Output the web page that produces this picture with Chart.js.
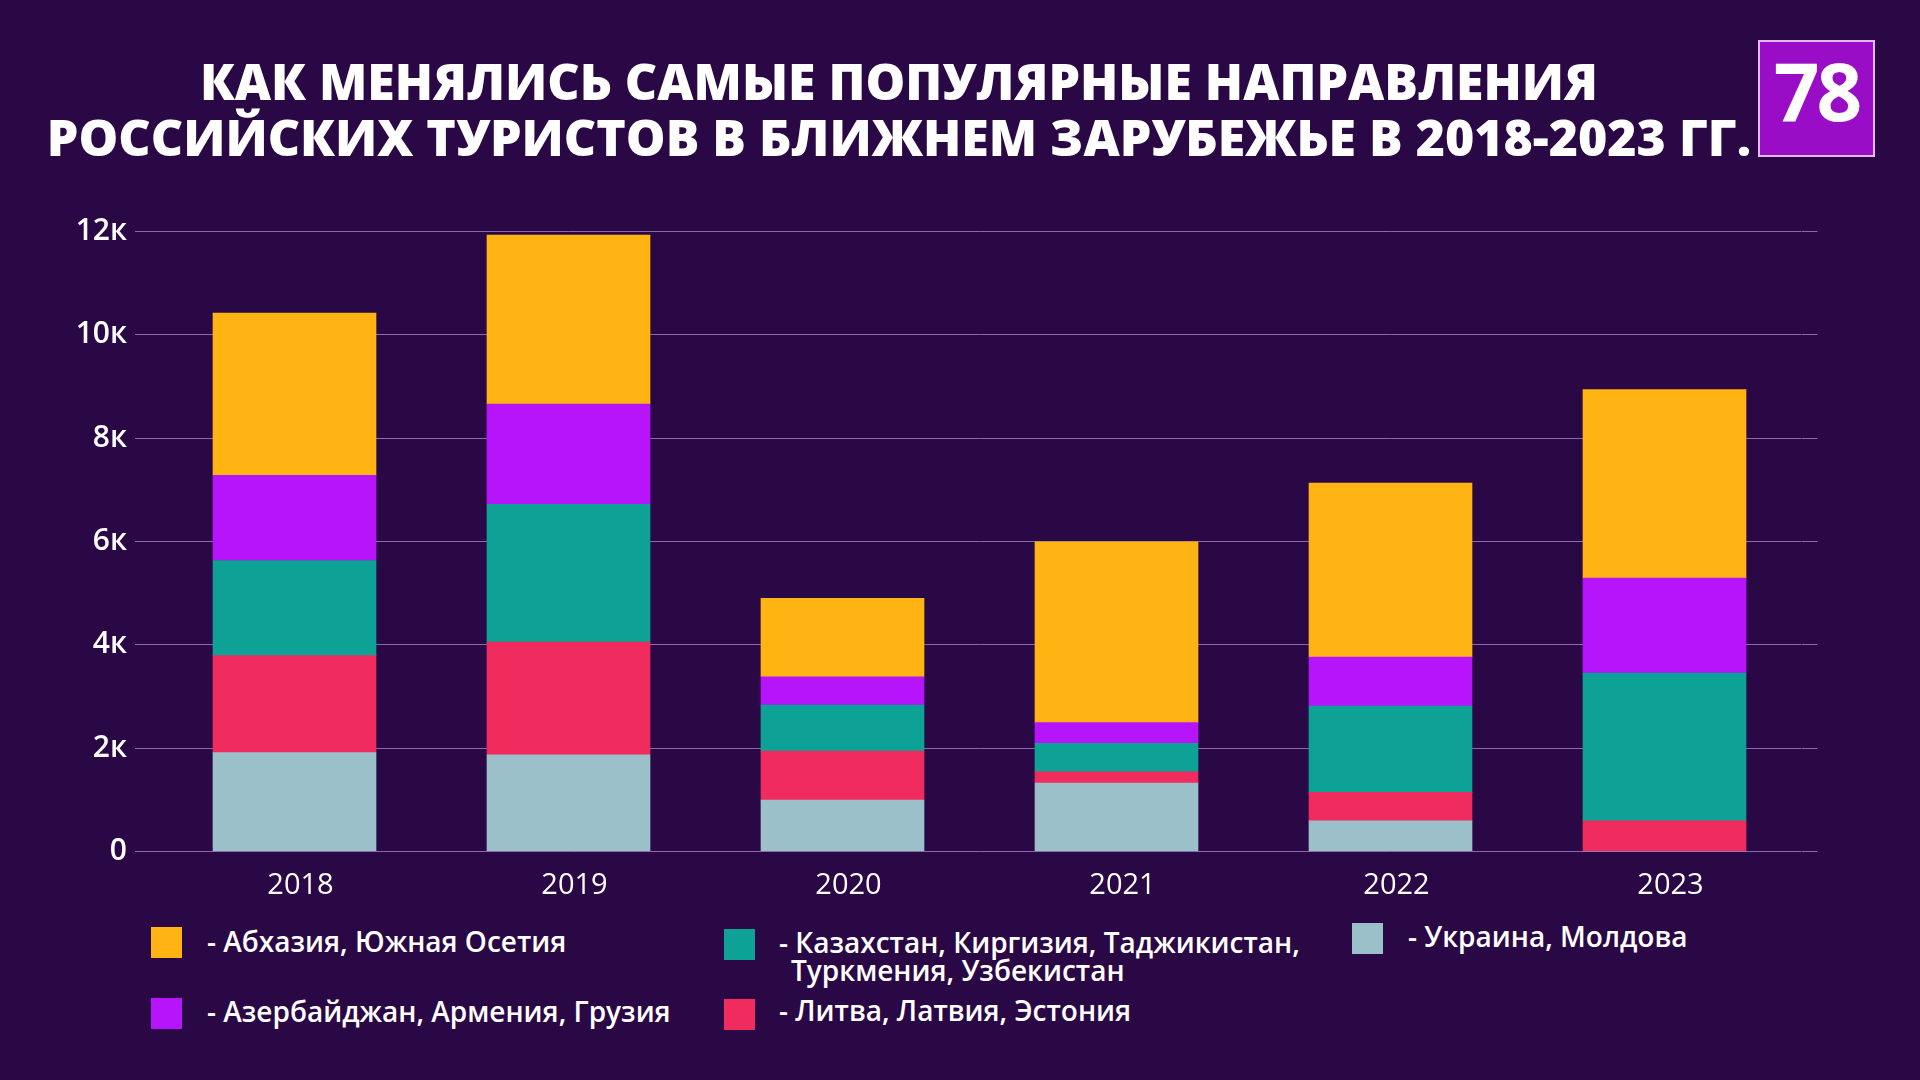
<!DOCTYPE html>
<html>
<head>
<meta charset="utf-8">
<script src="https://cdn.jsdelivr.net/npm/chart.js@4.4.1/dist/chart.umd.min.js"></script>
<style>
  html, body { margin:0; padding:0; background:#2a0845; }
  #wrap { position:relative; width:1920px; height:1080px; background:#2a0845; overflow:hidden; font-family:"Open Sans", sans-serif; color:#fff; }
  .title { position:absolute; left:0; width:1798px; text-align:center; font-weight:800; font-size:50px; line-height:1; white-space:nowrap; color:#fff; }
  #t1 { top:56px; }
  #t2 { top:112px; }
  #logo { position:absolute; left:1758px; top:40px; width:113px; height:113px; background:#9a0dc6; border:2px solid #e6b8f0; box-sizing:content-box; }
  #logo span { position:absolute; left:0; right:0; top:8px; text-align:center; font-family:"Open Sans", sans-serif; font-weight:700; font-size:80px; line-height:1; color:#fff; letter-spacing:-3px; }
  #chartBox { position:absolute; left:0; top:180px; width:1920px; height:720px; }
  .lg { position:absolute; font-weight:600; font-size:28px; line-height:28px; color:#fff; white-space:nowrap; }
  .sw { position:absolute; width:31px; height:31px; }
</style>
</head>
<body>
<div id="wrap">
  <div class="title" id="t1"></div>
  <div class="title" id="t2"></div>
  <div id="logo"><span>78</span></div>
  <div id="chartBox"><canvas id="c" width="1920" height="720"></canvas></div>
  <div id="legend"></div>
</div>
<script>
// ---- data ----
const titleLines = ["КАК МЕНЯЛИСЬ САМЫЕ ПОПУЛЯРНЫЕ НАПРАВЛЕНИЯ", "РОССИЙСКИХ ТУРИСТОВ В БЛИЖНЕМ ЗАРУБЕЖЬЕ В 2018-2023 ГГ."];
const categories = ["2018", "2019", "2020", "2021", "2022", "2023"];
const ukraineMoldova   = [1910, 1870, 990, 1320, 590, 0];
const baltics          = [1880, 2180, 950, 220, 550, 590];
const centralAsia      = [1840, 2670, 890, 550, 1670, 2860];
const caucasus         = [1650, 1940, 550, 400, 950, 1840];
const abkhaziaOssetia  = [3140, 3270, 1520, 3500, 3370, 3650];
const yTickValues      = [0, 2000, 4000, 6000, 8000, 10000, 12000];
const yTickLabels      = ["0", "2к", "4к", "6к", "8к", "10к", "12к"];
const seriesLabels = {
  abkh: "- Абхазия, Южная Осетия",
  ca:   "- Казахстан, Киргизия, Таджикистан,\nТуркмения, Узбекистан",
  ukr:  "- Украина, Молдова",
  cauc: "- Азербайджан, Армения, Грузия",
  balt: "- Литва, Латвия, Эстония"
};
const colors = { ukr:"#9cc0ca", balt:"#f02c5e", ca:"#0ea196", cauc:"#b614fa", abkh:"#ffb413" };

// ---- title ----
document.getElementById('t1').textContent = titleLines[0];
document.getElementById('t2').textContent = titleLines[1];

// ---- legend (HTML) ----
const legendLayout = [
  { key:"abkh", sx:151, sy:927, tx:207, ty:927 },
  { key:"ca",   sx:724, sy:929, tx:779, ty:928 },
  { key:"ukr",  sx:1352, sy:923, tx:1408, ty:922 },
  { key:"cauc", sx:151, sy:998, tx:207, ty:997 },
  { key:"balt", sx:724, sy:999, tx:779, ty:996 }
];
const lg = document.getElementById('legend');
legendLayout.forEach(it => {
  const sw = document.createElement('div');
  sw.className = 'sw';
  sw.style.left = it.sx + 'px'; sw.style.top = it.sy + 'px';
  sw.style.background = colors[it.key];
  lg.appendChild(sw);
  const t = document.createElement('div');
  t.className = 'lg';
  t.style.left = it.tx + 'px'; t.style.top = it.ty + 'px';
  const lines = seriesLabels[it.key].split('\n');
  lines.forEach((ln, i) => {
    const d = document.createElement('div');
    d.textContent = ln;
    if (i > 0) d.style.paddingLeft = '12px';
    t.appendChild(d);
  });
  lg.appendChild(t);
});

// ---- chart ----
const GRID = '#8a68ad';
const tickFmt = v => { const i = yTickValues.indexOf(v); return i >= 0 ? yTickLabels[i] : ''; };
const yCommon = {
  stacked: true, min: 0, max: 12000,
  afterBuildTicks: s => { s.ticks = yTickValues.map(v => ({ value: v })); },
  border: { display: false }
};
new Chart(document.getElementById('c'), {
  type: 'bar',
  data: {
    labels: categories,
    datasets: [
      { label: seriesLabels.ukr,  data: ukraineMoldova,  backgroundColor: colors.ukr },
      { label: seriesLabels.balt, data: baltics,         backgroundColor: colors.balt },
      { label: seriesLabels.ca,   data: centralAsia,     backgroundColor: colors.ca },
      { label: seriesLabels.cauc, data: caucasus,        backgroundColor: colors.cauc },
      { label: seriesLabels.abkh, data: abkhaziaOssetia, backgroundColor: colors.abkh }
    ]
  },
  options: {
    responsive: false,
    animation: false,
    devicePixelRatio: 1,
    layout: { padding: { top: 51.5, left: 0, right: 0, bottom: 0 } },
    datasets: { bar: { barThickness: 163, borderWidth: 0 } },
    plugins: { legend: { display: false }, tooltip: { enabled: false }, title: { display: false } },
    scales: {
      x: {
        stacked: true,
        grid: { display: false },
        border: { display: false },
        ticks: { color: '#ffffff', font: { family: 'Open Sans', size: 29, weight: '500' }, padding: 9, labelOffset: 6 },
        afterFit: s => { s.height = 48.7; }
      },
      y: Object.assign({}, yCommon, {
        position: 'left',
        grid: { color: GRID, lineWidth: 1, drawTicks: true, tickLength: 22.5, tickColor: GRID },
        ticks: { color: '#ffffff', font: { family: 'Open Sans', size: 30, weight: '600' }, padding: 8, callback: tickFmt },
        afterFit: s => { s.width = 157.5; }
      }),
      y2: Object.assign({}, yCommon, {
        position: 'right',
        grid: { color: GRID, lineWidth: 1, drawOnChartArea: false, drawTicks: true, tickLength: 16, tickColor: GRID },
        ticks: { display: false },
        afterFit: s => { s.width = 118.5; }
      })
    }
  }
});
</script>
</body>
</html>
